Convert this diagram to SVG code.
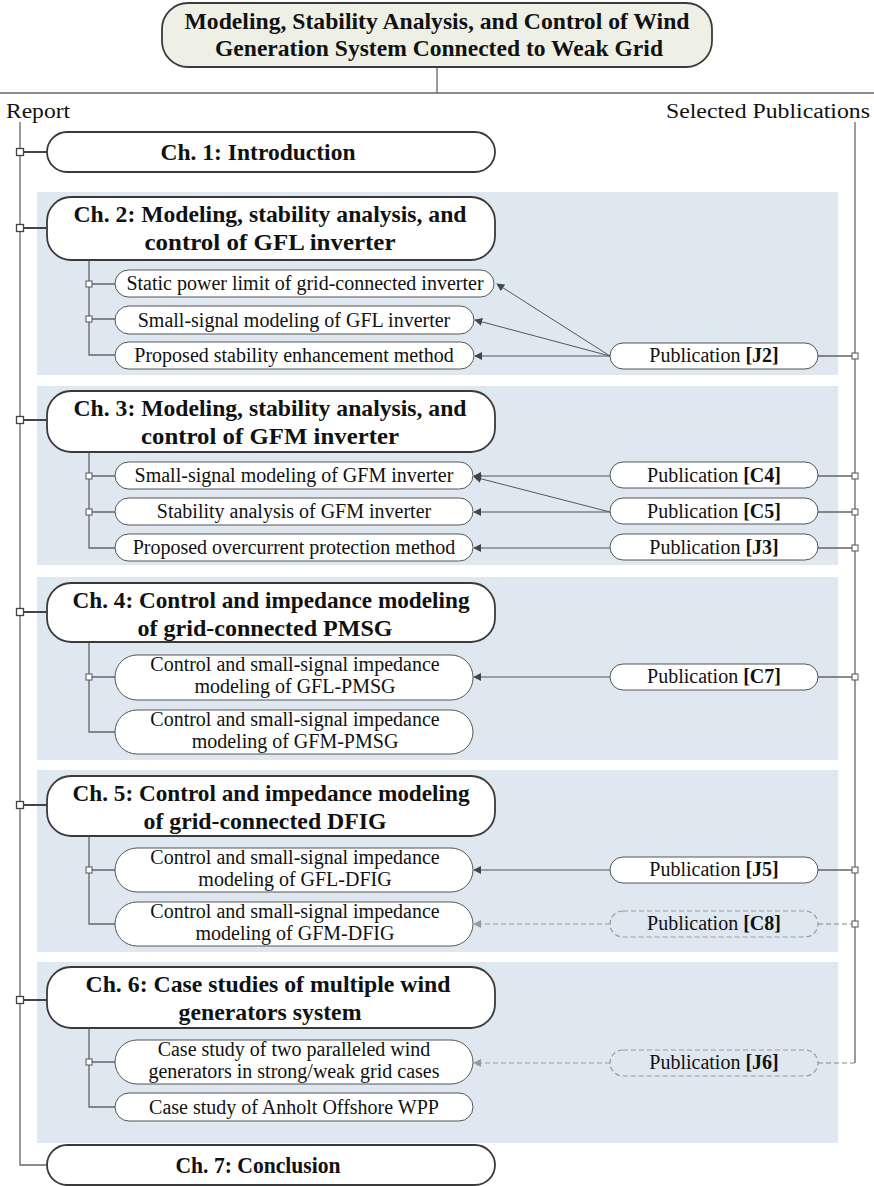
<svg xmlns="http://www.w3.org/2000/svg" width="874" height="1186" viewBox="0 0 874 1186">
<style>
.bg{fill:#dfe8f1}
.ch{fill:#fff;stroke:#3a3a3a;stroke-width:1.8}
.sub{fill:#fff;stroke:#555;stroke-width:1}
.pub{fill:#fff;stroke:#555;stroke-width:1}
.pubd{fill:none;stroke:#999;stroke-width:1.2;stroke-dasharray:5 3}
.ln{fill:none;stroke:#666;stroke-width:1.3}
.lnk{fill:none;stroke:#444;stroke-width:1.8}
.ar{fill:none;stroke:#555;stroke-width:1;marker-end:url(#ah)}
.ard{fill:none;stroke:#999;stroke-width:1.2;stroke-dasharray:5 3;marker-end:url(#ahd)}
.dl{fill:none;stroke:#888;stroke-width:1.2;stroke-dasharray:5 3}
.sq{fill:#fff;stroke:#555;stroke-width:1}
.sqb{fill:#fff;stroke:#444;stroke-width:1.3}
.tt{font-family:"Liberation Serif","Times New Roman",serif;font-weight:bold;font-size:23px;fill:#111;text-anchor:middle}
.ct{font-family:"Liberation Serif","Times New Roman",serif;font-weight:bold;font-size:23px;fill:#111;text-anchor:middle}
.st{font-family:"Liberation Serif","Times New Roman",serif;font-size:20px;fill:#111;text-anchor:middle}
.lb{font-family:"Liberation Serif","Times New Roman",serif;font-size:20px;fill:#111}
</style>
<defs>
<marker id="ah" viewBox="0 0 10 10" refX="9" refY="5" markerWidth="8" markerHeight="8" markerUnits="userSpaceOnUse" orient="auto"><path d="M0,0L10,5L0,10z" fill="#444"/></marker>
<marker id="ahd" viewBox="0 0 10 10" refX="9" refY="5" markerWidth="8" markerHeight="8" markerUnits="userSpaceOnUse" orient="auto"><path d="M0,0L10,5L0,10z" fill="#999"/></marker>
</defs>

<g id="sections">
<rect class="bg" x="37" y="192" width="801" height="183"/>
<rect class="bg" x="37" y="386" width="801" height="179"/>
<rect class="bg" x="37" y="577" width="801" height="183"/>
<rect class="bg" x="37" y="770" width="801" height="182"/>
<rect class="bg" x="37" y="962" width="801" height="181"/>
</g>

<g id="connectors">
<path class="ln" d="M437,67V93M0,93H874"/>
<path class="ln" d="M20,122V1165H47"/>
<path class="ln" d="M855,122V1063"/>
<path class="lnk" d="M20,152H47M20,228H47M20,420H47M20,612H47M20,805H47M20,1000H47"/>
<path class="ln" d="M89,260V355H115M89,284H115M89,319H115"/>
<path class="ln" d="M89,452V548H115M89,476H115M89,512H115"/>
<path class="ln" d="M89,642V732H115M89,677H115"/>
<path class="ln" d="M89,836V924H115M89,870H115"/>
<path class="ln" d="M89,1028V1107H115M89,1062H115"/>
<path class="ln" d="M818,356H855M818,476H855M818,512H855M818,548H855M818,677H855M818,870H855"/>
<path class="dl" d="M818,924H855M818,1063H855"/>
<path class="ar" d="M610,356L497,284"/>
<path class="ar" d="M610,356L475,320"/>
<path class="ar" d="M610,356H475"/>
<path class="ar" d="M610,476H474"/>
<path class="ar" d="M610,512L474,477"/>
<path class="ar" d="M610,512H474"/>
<path class="ar" d="M610,548H474"/>
<path class="ar" d="M610,677H474"/>
<path class="ar" d="M610,870H474"/>
<path class="ard" d="M610,924H474"/>
<path class="ard" d="M610,1063H474"/>
<rect class="sqb" x="16.5" y="148.5" width="7" height="7"/>
<rect class="sqb" x="16.5" y="224.5" width="7" height="7"/>
<rect class="sqb" x="16.5" y="416.5" width="7" height="7"/>
<rect class="sqb" x="16.5" y="608.5" width="7" height="7"/>
<rect class="sqb" x="16.5" y="801.5" width="7" height="7"/>
<rect class="sqb" x="16.5" y="996.5" width="7" height="7"/>
<rect class="sq" x="86" y="281" width="6" height="6"/>
<rect class="sq" x="86" y="316" width="6" height="6"/>
<rect class="sq" x="86" y="473" width="6" height="6"/>
<rect class="sq" x="86" y="509" width="6" height="6"/>
<rect class="sq" x="86" y="674" width="6" height="6"/>
<rect class="sq" x="86" y="867" width="6" height="6"/>
<rect class="sq" x="86" y="1059" width="6" height="6"/>
<rect class="sq" x="852" y="353" width="6" height="6"/>
<rect class="sq" x="852" y="473" width="6" height="6"/>
<rect class="sq" x="852" y="509" width="6" height="6"/>
<rect class="sq" x="852" y="545" width="6" height="6"/>
<rect class="sq" x="852" y="674" width="6" height="6"/>
<rect class="sq" x="852" y="867" width="6" height="6"/>
<rect class="sq" x="852" y="921" width="6" height="6"/>
</g>

<g id="title">
<rect x="162" y="3" width="550" height="64" rx="26" fill="#eef0e6" stroke="#3a3a3a" stroke-width="1.8"/>
<text class="tt" x="437" y="29" textLength="505" lengthAdjust="spacingAndGlyphs">Modeling, Stability Analysis, and Control of Wind</text>
<text class="tt" x="439" y="56" textLength="448" lengthAdjust="spacingAndGlyphs">Generation System Connected to Weak Grid</text>
</g>

<g id="labels">
<text class="lb" x="6" y="118" textLength="64" lengthAdjust="spacingAndGlyphs">Report</text>
<text class="lb" x="870" y="118" text-anchor="end" textLength="204" lengthAdjust="spacingAndGlyphs">Selected Publications</text>
</g>

<g id="ch1">
<rect class="ch" x="47" y="132" width="448" height="40" rx="20"/>
<text class="ct" x="258" y="160" textLength="195" lengthAdjust="spacingAndGlyphs">Ch. 1: Introduction</text>
</g>

<g id="ch2">
<rect class="ch" x="47" y="197" width="448" height="63" rx="24"/>
<text class="ct" x="270" y="222" textLength="393" lengthAdjust="spacingAndGlyphs">Ch. 2: Modeling, stability analysis, and</text>
<text class="ct" x="270" y="250" textLength="251" lengthAdjust="spacingAndGlyphs">control of GFL inverter</text>
</g>
<g id="ch2a"><rect class="sub" x="115" y="270" width="379" height="27" rx="13.5"/><text class="st" x="305" y="290">Static power limit of grid-connected inverter</text></g>
<g id="ch2b"><rect class="sub" x="115" y="306" width="359" height="28" rx="14"/><text class="st" x="294" y="327">Small-signal modeling of GFL inverter</text></g>
<g id="ch2c"><rect class="sub" x="115" y="342" width="359" height="27" rx="13.5"/><text class="st" x="294" y="362">Proposed stability enhancement method</text></g>
<g id="pubJ2"><rect class="pub" x="610" y="343" width="208" height="26" rx="13"/><text class="st" x="714" y="362">Publication <tspan font-weight="bold">[J2]</tspan></text></g>

<g id="ch3">
<rect class="ch" x="47" y="391" width="448" height="61" rx="24"/>
<text class="ct" x="270" y="416" textLength="393" lengthAdjust="spacingAndGlyphs">Ch. 3: Modeling, stability analysis, and</text>
<text class="ct" x="270" y="444" textLength="258" lengthAdjust="spacingAndGlyphs">control of GFM inverter</text>
</g>
<g id="ch3a"><rect class="sub" x="115" y="462" width="358" height="27" rx="13.5"/><text class="st" x="294" y="482">Small-signal modeling of GFM inverter</text></g>
<g id="ch3b"><rect class="sub" x="115" y="498" width="358" height="27" rx="13.5"/><text class="st" x="294" y="518">Stability analysis of GFM inverter</text></g>
<g id="ch3c"><rect class="sub" x="115" y="534" width="358" height="27" rx="13.5"/><text class="st" x="294" y="554">Proposed overcurrent protection method</text></g>
<g id="pubC4"><rect class="pub" x="610" y="462" width="208" height="26" rx="13"/><text class="st" x="714" y="482">Publication <tspan font-weight="bold">[C4]</tspan></text></g>
<g id="pubC5"><rect class="pub" x="610" y="498" width="208" height="26" rx="13"/><text class="st" x="714" y="518">Publication <tspan font-weight="bold">[C5]</tspan></text></g>
<g id="pubJ3"><rect class="pub" x="610" y="534" width="208" height="26" rx="13"/><text class="st" x="714" y="554">Publication <tspan font-weight="bold">[J3]</tspan></text></g>

<g id="ch4">
<rect class="ch" x="47" y="583" width="448" height="59" rx="24"/>
<text class="ct" x="271" y="608" textLength="397" lengthAdjust="spacingAndGlyphs">Ch. 4: Control and impedance modeling</text>
<text class="ct" x="265" y="636" textLength="255" lengthAdjust="spacingAndGlyphs">of grid-connected PMSG</text>
</g>
<g id="ch4a"><rect class="sub" x="115" y="655" width="358" height="45" rx="22"/><text class="st" x="295" y="671">Control and small-signal impedance</text><text class="st" x="295" y="693">modeling of GFL-PMSG</text></g>
<g id="ch4b"><rect class="sub" x="115" y="710" width="358" height="44" rx="22"/><text class="st" x="295" y="726">Control and small-signal impedance</text><text class="st" x="295" y="748">modeling of GFM-PMSG</text></g>
<g id="pubC7"><rect class="pub" x="610" y="664" width="208" height="26" rx="13"/><text class="st" x="714" y="683">Publication <tspan font-weight="bold">[C7]</tspan></text></g>

<g id="ch5">
<rect class="ch" x="47" y="776" width="448" height="60" rx="24"/>
<text class="ct" x="271" y="801" textLength="397" lengthAdjust="spacingAndGlyphs">Ch. 5: Control and impedance modeling</text>
<text class="ct" x="265" y="829" textLength="243" lengthAdjust="spacingAndGlyphs">of grid-connected DFIG</text>
</g>
<g id="ch5a"><rect class="sub" x="115" y="848" width="358" height="44" rx="22"/><text class="st" x="295" y="864">Control and small-signal impedance</text><text class="st" x="295" y="886">modeling of GFL-DFIG</text></g>
<g id="ch5b"><rect class="sub" x="115" y="902" width="358" height="44" rx="22"/><text class="st" x="295" y="918">Control and small-signal impedance</text><text class="st" x="295" y="940">modeling of GFM-DFIG</text></g>
<g id="pubJ5"><rect class="pub" x="610" y="857" width="208" height="26" rx="13"/><text class="st" x="714" y="876">Publication <tspan font-weight="bold">[J5]</tspan></text></g>
<g id="pubC8"><rect class="pubd" x="610" y="911" width="208" height="26" rx="13"/><text class="st" x="714" y="930">Publication <tspan font-weight="bold">[C8]</tspan></text></g>

<g id="ch6">
<rect class="ch" x="47" y="967" width="448" height="61" rx="24"/>
<text class="ct" x="268" y="992" textLength="365" lengthAdjust="spacingAndGlyphs">Ch. 6: Case studies of multiple wind</text>
<text class="ct" x="270" y="1020" textLength="183" lengthAdjust="spacingAndGlyphs">generators system</text>
</g>
<g id="ch6a"><rect class="sub" x="115" y="1040" width="358" height="44" rx="22"/><text class="st" x="294" y="1056">Case study of two paralleled wind</text><text class="st" x="294" y="1078">generators in strong/weak grid cases</text></g>
<g id="ch6b"><rect class="sub" x="115" y="1093" width="358" height="28" rx="14"/><text class="st" x="294" y="1114">Case study of Anholt Offshore WPP</text></g>
<g id="pubJ6"><rect class="pubd" x="610" y="1050" width="208" height="26" rx="13"/><text class="st" x="714" y="1069">Publication <tspan font-weight="bold">[J6]</tspan></text></g>

<g id="ch7">
<rect class="ch" x="47" y="1145" width="448" height="40" rx="20"/>
<text class="ct" x="258" y="1173" textLength="165" lengthAdjust="spacingAndGlyphs">Ch. 7: Conclusion</text>
</g>
</svg>
